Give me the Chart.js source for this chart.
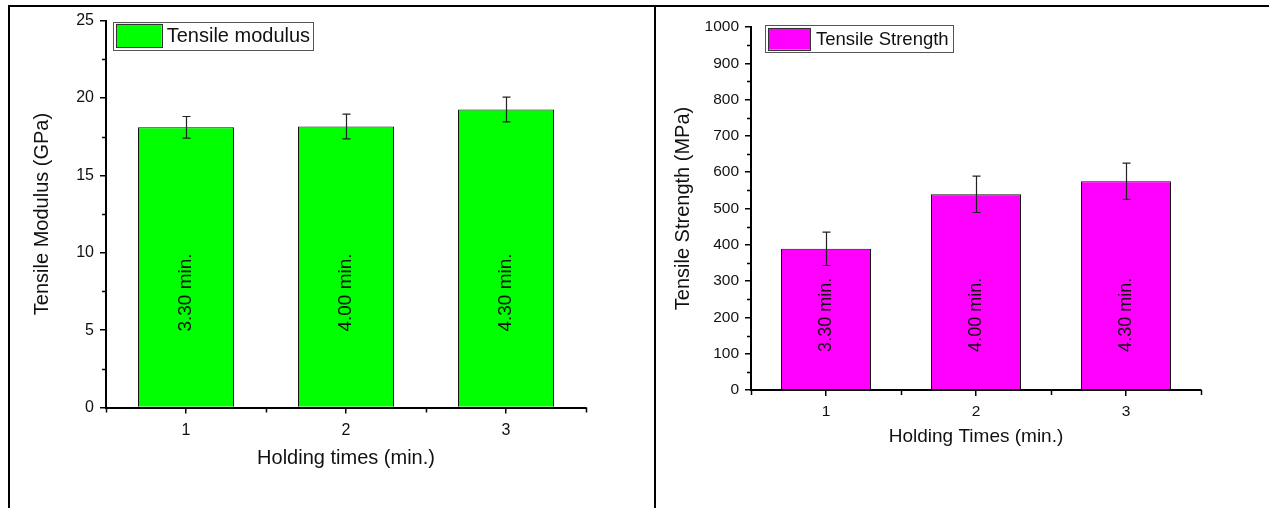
<!DOCTYPE html>
<html>
<head>
<meta charset="utf-8">
<script src="https://cdn.jsdelivr.net/npm/chart.js@4.4.1/dist/chart.umd.min.js"></script>
<style>
  html, body { margin: 0; padding: 0; background: #fff; }
  body { width: 1269px; height: 508px; position: relative; overflow: hidden; }
  canvas { position: absolute; top: 0; }
  #modulus-chart { left: 0; }
  #strength-chart { left: 657px; }
  .rule { position: absolute; background: #000; z-index: 2; }
</style>
</head>
<body>
<div class="rule" style="left:8px; top:5px; right:0; height:2px"></div>
<div class="rule" style="left:8px; top:5px; bottom:0; width:2px"></div>
<div class="rule" style="left:654px; top:5px; bottom:0; width:2px"></div>
<canvas id="modulus-chart" width="654" height="508"></canvas>
<canvas id="strength-chart" width="612" height="508"></canvas>
<script>
// Holding times on the x axis and the label written inside each bar
const holdingTimes = ["1", "2", "3"]
const timeLabels = ["3.30 min.", "4.00 min.", "4.30 min."]

// Tensile modulus (GPa) with standard deviation
const modulusValues = [18.1, 18.15, 19.25]
const modulusErrors = [0.7, 0.8, 0.8]
const modulusTicks = [0, 5, 10, 15, 20, 25]

// Tensile strength (MPa) with standard deviation
const strengthValues = [389, 539, 575]
const strengthErrors = [46, 50, 50]
const strengthTicks = [0, 100, 200, 300, 400, 500, 600, 700, 800, 900, 1000]

Chart.defaults.font.family = "'Liberation Sans', Arial, sans-serif"
Chart.defaults.color = "#111"

// error bars drawn on top of each bar
function errorBars(errors) {
  return {
    id: "errorBars",
    afterDatasetsDraw(chart) {
      const { ctx, scales: { y } } = chart
      const values = chart.data.datasets[0].data
      ctx.save()
      ctx.strokeStyle = "#222"
      ctx.lineWidth = 1.2
      chart.getDatasetMeta(0).data.forEach((bar, i) => {
        const x = Math.round(bar.x) + 0.5
        const top = y.getPixelForValue(values[i] + errors[i])
        const bottom = y.getPixelForValue(values[i] - errors[i])
        ctx.beginPath()
        ctx.moveTo(x, top); ctx.lineTo(x, bottom)
        ctx.moveTo(x - 4, top); ctx.lineTo(x + 4, top)
        ctx.moveTo(x - 4, bottom); ctx.lineTo(x + 4, bottom)
        ctx.stroke()
      })
      ctx.restore()
    },
  }
}

// rotated text inside each bar
function barText(labels, atValue, size) {
  return {
    id: "barText",
    afterDatasetsDraw(chart) {
      const { ctx, scales: { y } } = chart
      chart.getDatasetMeta(0).data.forEach((bar, i) => {
        ctx.save()
        ctx.translate(bar.x, y.getPixelForValue(atValue))
        ctx.rotate(-Math.PI / 2)
        ctx.font = size + "px 'Liberation Sans', Arial, sans-serif"
        ctx.fillStyle = "#111"
        ctx.textAlign = "center"
        ctx.textBaseline = "middle"
        ctx.fillText(labels[i], 0, 0)
        ctx.restore()
      })
    },
  }
}

// short unlabelled ticks between the major ones
function minorTicks(yTicks) {
  return {
    id: "minorTicks",
    afterDraw(chart) {
      const { ctx, scales: { x, y }, chartArea } = chart
      ctx.save()
      ctx.strokeStyle = "#000"
      ctx.lineWidth = 1.5
      ctx.beginPath()
      for (let i = 0; i < yTicks.length - 1; i++) {
        const py = Math.round(y.getPixelForValue((yTicks[i] + yTicks[i + 1]) / 2)) + 0.5
        ctx.moveTo(chartArea.left - 4, py); ctx.lineTo(chartArea.left, py)
      }
      for (let i = -0.5; i <= holdingTimes.length - 0.5; i++) {
        const px = Math.round(x.getPixelForValue(i)) + 0.5
        ctx.moveTo(px, chartArea.bottom); ctx.lineTo(px, chartArea.bottom + 5)
      }
      ctx.stroke()
      ctx.restore()
    },
  }
}

// framed legend with a colour swatch
function boxLegend(text, color, o) {
  return {
    id: "boxLegend",
    afterDraw(chart) {
      const { ctx, chartArea } = chart
      ctx.save()
      ctx.font = o.size + "px 'Liberation Sans', Arial, sans-serif"
      const x = chartArea.left + o.dx
      const y = chartArea.top + o.dy
      const textX = x + o.inset + o.sw + o.gap
      const w = textX - x + ctx.measureText(text).width + o.pad
      ctx.fillStyle = "#fff"
      ctx.fillRect(x, y, w, o.h)
      ctx.strokeStyle = "#555"
      ctx.lineWidth = 1
      ctx.strokeRect(Math.round(x) + 0.5, Math.round(y) + 0.5, Math.round(w), Math.round(o.h))
      ctx.fillStyle = color
      ctx.fillRect(x + o.inset, y + (o.h - o.sh) / 2, o.sw, o.sh)
      ctx.strokeStyle = "#333"
      ctx.strokeRect(Math.round(x + o.inset) + 0.5, Math.round(y + (o.h - o.sh) / 2) + 0.5, Math.round(o.sw), Math.round(o.sh))
      ctx.fillStyle = "#111"
      ctx.textBaseline = "middle"
      ctx.fillText(text, textX, y + o.h / 2 + 1)
      ctx.restore()
    },
  }
}

function barChart(canvasId, cfg) {
  return new Chart(document.getElementById(canvasId), {
    type: "bar",
    data: {
      labels: holdingTimes,
      datasets: [
        {
          label: cfg.label,
          data: cfg.values,
          backgroundColor: cfg.color,
          borderColor: "#111",
          borderWidth: 1,
          barPercentage: 0.6,
          categoryPercentage: 1,
        },
      ],
    },
    options: {
      responsive: false,
      animation: false,
      layout: { padding: cfg.padding },
      plugins: { legend: { display: false }, tooltip: { enabled: false } },
      scales: {
        x: {
          offset: true,
          grid: { offset: false, drawOnChartArea: false, color: "#000", lineWidth: 1.5, tickLength: 6 },
          border: { color: "#000", width: 2 },
          ticks: { font: { size: cfg.tickSize }, padding: cfg.xPad, maxRotation: 0 },
          title: {
            display: true,
            text: cfg.xTitle,
            font: { size: cfg.xTitleSize },
            padding: { top: 0, bottom: cfg.xTitlePad },
          },
          afterFit: (scale) => { scale.height = cfg.xHeight },
        },
        y: {
          min: cfg.ticks[0],
          max: cfg.ticks[cfg.ticks.length - 1],
          afterBuildTicks: (scale) => { scale.ticks = cfg.ticks.map((v) => ({ value: v })) },
          grid: { drawOnChartArea: false, color: "#000", lineWidth: 1.5, tickLength: 6 },
          border: { color: "#000", width: 2 },
          ticks: { font: { size: cfg.tickSize }, padding: 6, callback: (v) => String(v) },
          title: {
            display: true,
            text: cfg.yTitle,
            font: { size: 20 },
            padding: { top: cfg.yTitlePad, bottom: 0 },
          },
          afterFit: (scale) => { scale.width = cfg.yWidth },
        },
      },
    },
    plugins: [
      minorTicks(cfg.ticks),
      errorBars(cfg.errors),
      barText(timeLabels, cfg.textAt, cfg.textSize),
      boxLegend(cfg.label, cfg.color, cfg.legend),
    ],
  })
}

barChart("modulus-chart", {
  label: "Tensile modulus",
  values: modulusValues,
  errors: modulusErrors,
  ticks: modulusTicks,
  color: "#00ff00",
  xTitle: "Holding times (min.)",
  yTitle: "Tensile Modulus (GPa)",
  tickSize: 16,
  xTitleSize: 20,
  xTitlePad: 38,
  yTitlePad: 30,
  xPad: 7,
  xHeight: 100.5,
  yWidth: 106,
  padding: { left: 0, right: 68, top: 20.5, bottom: 0 },
  textAt: 7.43,
  textSize: 19,
  legend: { dx: 7.3, dy: 1.2, h: 27.6, inset: 2.7, sw: 45.7, sh: 23.4, gap: 5, pad: 3, size: 20 },
})

barChart("strength-chart", {
  label: "Tensile Strength",
  values: strengthValues,
  errors: strengthErrors,
  ticks: strengthTicks,
  color: "#ff00ff",
  xTitle: "Holding Times (min.)",
  yTitle: "Tensile Strength (MPa)",
  tickSize: 15.5,
  xTitleSize: 19,
  xTitlePad: 59.6,
  yTitlePad: 14,
  xPad: 6,
  xHeight: 118,
  yWidth: 94,
  padding: { left: 0, right: 68, top: 27, bottom: 0 },
  textAt: 207,
  textSize: 18,
  legend: { dx: 14.3, dy: -1.7, h: 27, inset: 3, sw: 42.4, sh: 21.7, gap: 5.3, pad: 4.6, size: 18.5 },
})
</script>
</body>
</html>
